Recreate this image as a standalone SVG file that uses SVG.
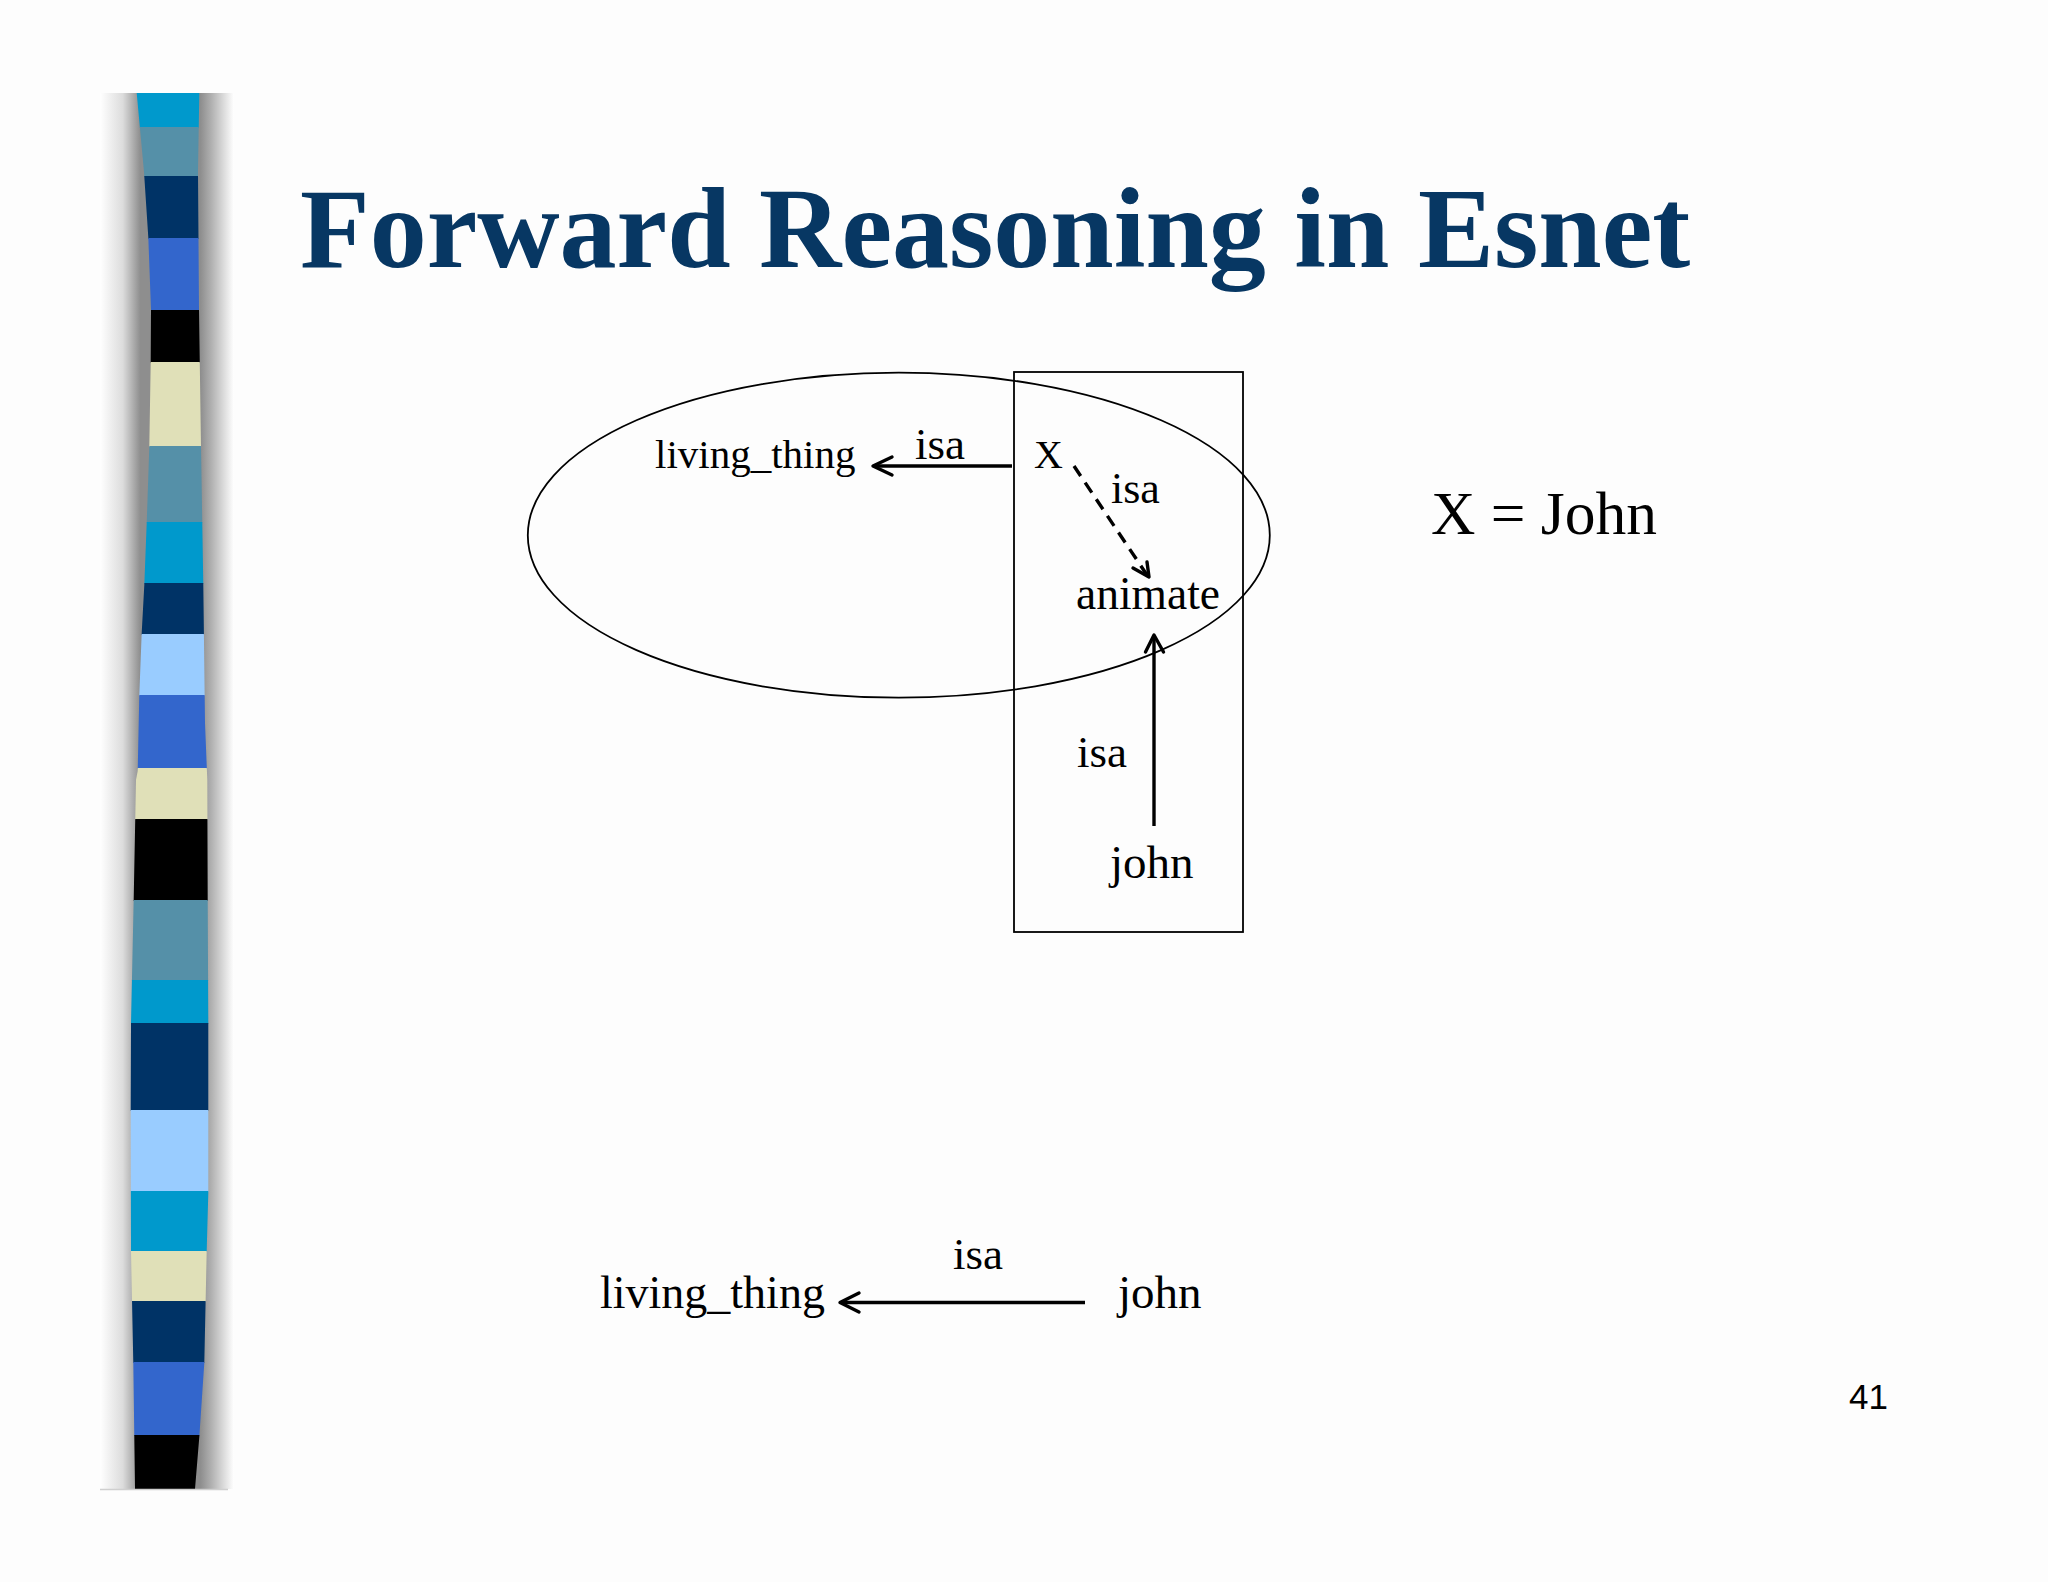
<svg xmlns="http://www.w3.org/2000/svg" width="2048" height="1582" viewBox="0 0 2048 1582">
  <defs>
    <style>
      .t { font-family: "Liberation Serif", "Times New Roman", serif; fill: #000; }
      .title { font-family: "Liberation Serif", "Times New Roman", serif; font-weight: bold; fill: #073763; }
      .edge { stroke: #000; stroke-width: 3.4; fill: none; }
      .head { stroke: #000; stroke-width: 3.4; fill: none; stroke-linecap: round; stroke-linejoin: round; }
      .thin { stroke: #000; stroke-width: 1.8; fill: none; }
    </style>
    <linearGradient id="shadow" gradientUnits="userSpaceOnUse" x1="100" y1="0" x2="234" y2="0">
      <stop offset="0" stop-color="#ffffff"/>
      <stop offset="0.17" stop-color="#dcdcdc"/>
      <stop offset="0.3" stop-color="#8e8e8e"/>
      <stop offset="0.75" stop-color="#8e8e8e"/>
      <stop offset="0.83" stop-color="#b0b0b0"/>
      <stop offset="1" stop-color="#ffffff"/>
    </linearGradient>
    <clipPath id="barclip">
      <path d="M136.7,93 L199.3,93 L198,172 L199,309 L201,447 L203.3,585 L205,723 L207.3,780 L207.7,899 L208.3,1023 L208.3,1193 L206.7,1251 L204.3,1363 L199.3,1437 L195,1489 L135,1489 L134.3,1437 L133.3,1363 L131,1251 L130.7,1108 L131,1023 L133.7,899 L136,780 L137.7,771 L139.3,695 L141.7,633 L144.3,585 L146.7,523 L149.3,447 L150.7,362 L151,309.6 L148.3,237.5 L144,172 Z"/>
    </clipPath>
  </defs>

  <rect x="0" y="0" width="2048" height="1582" fill="#fdfdfd"/>

  <!-- decorative left bar -->
  <g id="sidebar">
    <rect x="100" y="93" width="134" height="1396" fill="url(#shadow)"/>
    <g clip-path="url(#barclip)">
      <rect x="120" y="93" width="100" height="35" fill="#0099cc"/>
      <rect x="120" y="127" width="100" height="50" fill="#5590a8"/>
      <rect x="120" y="176" width="100" height="63" fill="#003366"/>
      <rect x="120" y="238" width="100" height="73" fill="#3366cc"/>
      <rect x="120" y="310" width="100" height="53" fill="#000000"/>
      <rect x="120" y="362" width="100" height="85" fill="#e0e0b8"/>
      <rect x="120" y="446" width="100" height="77" fill="#5590a8"/>
      <rect x="120" y="522" width="100" height="62" fill="#0099cc"/>
      <rect x="120" y="583" width="100" height="52" fill="#003366"/>
      <rect x="120" y="634" width="100" height="62" fill="#99ccff"/>
      <rect x="120" y="695" width="100" height="74" fill="#3366cc"/>
      <rect x="120" y="768" width="100" height="52" fill="#e0e0b8"/>
      <rect x="120" y="819" width="100" height="82" fill="#000000"/>
      <rect x="120" y="900" width="100" height="81" fill="#5590a8"/>
      <rect x="120" y="980" width="100" height="44" fill="#0099cc"/>
      <rect x="120" y="1023" width="100" height="88" fill="#003366"/>
      <rect x="120" y="1110" width="100" height="82" fill="#99ccff"/>
      <rect x="120" y="1191" width="100" height="61" fill="#0099cc"/>
      <rect x="120" y="1251" width="100" height="51" fill="#e0e0b8"/>
      <rect x="120" y="1301" width="100" height="62" fill="#003366"/>
      <rect x="120" y="1362" width="100" height="74" fill="#3366cc"/>
      <rect x="120" y="1435" width="100" height="55" fill="#000000"/>
    </g>
    <line x1="100" y1="1489.5" x2="228" y2="1489.5" stroke="#cfcfcf" stroke-width="1.5"/>
  </g>

  <!-- title -->
  <text class="title" x="300" y="267" font-size="114">Forward Reasoning in Esnet</text>

  <!-- grouping shapes -->
  <g id="ellipse-group">
    <ellipse class="thin" cx="898.8" cy="535.2" rx="371" ry="162.5"/>
  </g>
  <g id="box-group">
    <rect class="thin" x="1014" y="372" width="229" height="560"/>
  </g>

  <!-- nodes -->
  <g id="node-living-thing-top"><text class="t" x="655" y="468" font-size="41">living_thing</text></g>
  <g id="node-X"><text class="t" x="1034" y="468" font-size="40">X</text></g>
  <g id="node-animate"><text class="t" x="1076" y="609" font-size="45.5">animate</text></g>
  <g id="node-john-top"><text class="t" x="1110" y="878" font-size="47">john</text></g>
  <g id="node-x-equals"><text class="t" x="1431" y="534" font-size="61.5">X = John</text></g>
  <g id="node-living-thing-bottom"><text class="t" x="600" y="1308" font-size="46">living_thing</text></g>
  <g id="node-john-bottom"><text class="t" x="1118" y="1308" font-size="47">john</text></g>
  <g id="page-number"><text x="1849" y="1409" font-size="35" font-family="'Liberation Sans', Arial, sans-serif" fill="#000">41</text></g>

  <!-- connectors -->
  <g id="connectors">
    <line class="edge" x1="1012" y1="466" x2="874" y2="466"/>
    <polyline class="head" points="892,457 873,466 892,475"/>
    <text class="t" x="915" y="459" font-size="45">isa</text>

    <line class="edge" x1="1074" y1="466" x2="1147" y2="575" stroke-dasharray="12,8"/>
    <polyline class="head" points="1133,568 1149,577 1147,562"/>
    <text class="t" x="1111" y="503" font-size="44">isa</text>

    <line class="edge" x1="1154" y1="826" x2="1154" y2="637"/>
    <polyline class="head" points="1145.5,652 1154,635 1163.5,652"/>
    <text class="t" x="1077" y="767" font-size="45">isa</text>

    <line class="edge" x1="1085" y1="1302.5" x2="841" y2="1302.5"/>
    <polyline class="head" points="859,1293 840,1302.5 859,1312"/>
    <text class="t" x="953" y="1269" font-size="45">isa</text>
  </g>
</svg>
